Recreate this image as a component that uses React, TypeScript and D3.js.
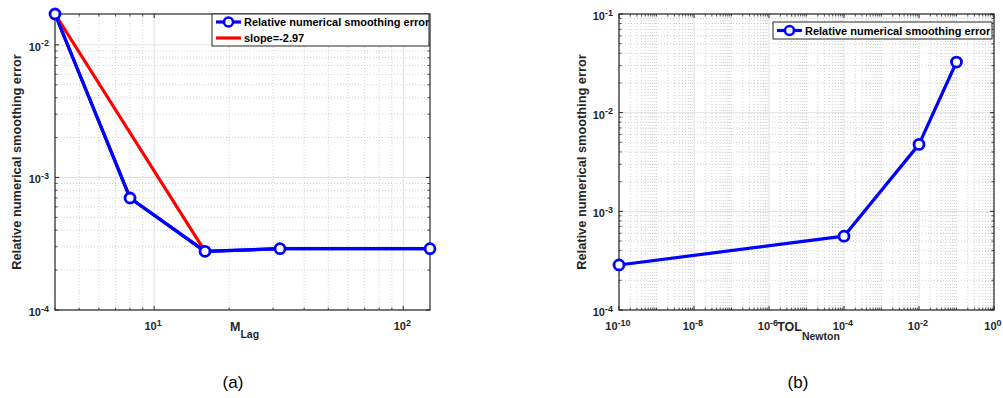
import React from "react";
import * as d3 from "d3";

// ---------- data ----------
const mLag = [4, 8, 16, 32, 128];
const errLag = [0.0171, 7.0e-4, 2.77e-4, 2.9e-4, 2.9e-4];
const slopeX = [4, 16];
const slopeY = [0.0171, 2.77e-4];
const slopeLabel = "slope=-2.97";

const tolNewton = [1e-10, 1e-4, 1e-2, 1e-1];
const errTol = [2.86e-4, 5.6e-4, 4.77e-3, 0.0326];

const leftXTicks = [10, 100];
const leftYTicks = [1e-4, 1e-3, 1e-2];
const rightXTicks = [1e-10, 1e-8, 1e-6, 1e-4, 1e-2, 1];
const rightYTicks = [1e-4, 1e-3, 1e-2, 1e-1];

const seriesName = "Relative numerical smoothing error";
const yLabel = "Relative numerical smoothing error";

const FONT = "'Liberation Sans', Arial, Helvetica, sans-serif";
const BLUE = "#0000ff";
const RED = "#ff0000";

function minorValues(domain: [number, number], majors: number[]) {
  const lo = Math.floor(Math.log10(domain[0]));
  const hi = Math.ceil(Math.log10(domain[1]));
  const out: number[] = [];
  const eps = 1e-9;
  for (let e = lo; e <= hi; e++) {
    for (let m = 1; m <= 9; m++) {
      const v = m * Math.pow(10, e);
      if (v < domain[0] * (1 - eps) || v > domain[1] * (1 + eps)) continue;
      if (majors.some((t) => Math.abs(Math.log10(t) - Math.log10(v)) < 1e-6)) continue;
      out.push(v);
    }
  }
  return out;
}

function PowLabel({ x, y, v, anchor }: { x: number; y: number; v: number; anchor: string }) {
  const e = Math.round(Math.log10(v));
  return (
    <text x={x} y={y} textAnchor={anchor} fontFamily={FONT} fontWeight="bold" fontSize={11} fill="#262626">
      10
      <tspan dy={-4.5} fontSize={9}>{String(e)}</tspan>
    </text>
  );
}

type Series = { xs: number[]; ys: number[]; color: string; marker: boolean };

function Panel(props: {
  left: number; top: number; right: number; bottom: number;
  xDomain: [number, number]; yDomain: [number, number];
  xTicks: number[]; yTicks: number[];
  series: Series[];
  legend: { label: string; color: string; marker: boolean }[];
  legendBox: { x: number; y: number; w: number; h: number };
  xLabelMain: string; xLabelSub: string; xLabelShift: number; xSubDy: number;
  yLabelX: number;
  caption: string; captionX: number;
}) {
  const { left, top, right, bottom } = props;
  const x = d3.scaleLog().domain(props.xDomain).range([left, right]);
  const y = d3.scaleLog().domain(props.yDomain).range([bottom, top]);
  const xMinor = minorValues(props.xDomain, props.xTicks);
  const yMinor = minorValues(props.yDomain, props.yTicks);
  const line = d3.line<[number, number]>().x((d) => x(d[0])).y((d) => y(d[1]));
  const lb = props.legendBox;
  const rowH = lb.h / props.legend.length;
  const midX = (left + right) / 2;
  const midY = (top + bottom) / 2;
  return (
    <g>
      <rect x={left} y={top} width={right - left} height={bottom - top} fill="#fff" />
      {/* minor grid */}
      {xMinor.map((v, i) => (
        <line key={"xm" + i} x1={x(v)} x2={x(v)} y1={top} y2={bottom} stroke="#bdbdbd" strokeWidth={0.7} strokeDasharray="1,2" />
      ))}
      {yMinor.map((v, i) => (
        <line key={"ym" + i} x1={left} x2={right} y1={y(v)} y2={y(v)} stroke="#bdbdbd" strokeWidth={0.7} strokeDasharray="1,2" />
      ))}
      {/* major grid */}
      {props.xTicks.map((v, i) => (
        <line key={"xg" + i} x1={x(v)} x2={x(v)} y1={top} y2={bottom} stroke="#e0e0e0" strokeWidth={1} />
      ))}
      {props.yTicks.map((v, i) => (
        <line key={"yg" + i} x1={left} x2={right} y1={y(v)} y2={y(v)} stroke="#e0e0e0" strokeWidth={1} />
      ))}
      {/* ticks */}
      {props.xTicks.map((v, i) => (
        <g key={"xt" + i}>
          <line x1={x(v)} x2={x(v)} y1={bottom} y2={bottom - 4} stroke="#262626" />
          <line x1={x(v)} x2={x(v)} y1={top} y2={top + 4} stroke="#262626" />
        </g>
      ))}
      {xMinor.map((v, i) => (
        <g key={"xmt" + i}>
          <line x1={x(v)} x2={x(v)} y1={bottom} y2={bottom - 2.5} stroke="#262626" strokeWidth={0.8} />
          <line x1={x(v)} x2={x(v)} y1={top} y2={top + 2.5} stroke="#262626" strokeWidth={0.8} />
        </g>
      ))}
      {props.yTicks.map((v, i) => (
        <g key={"yt" + i}>
          <line x1={left} x2={left + 4} y1={y(v)} y2={y(v)} stroke="#262626" />
          <line x1={right} x2={right - 4} y1={y(v)} y2={y(v)} stroke="#262626" />
        </g>
      ))}
      {yMinor.map((v, i) => (
        <g key={"ymt" + i}>
          <line x1={left} x2={left + 2.5} y1={y(v)} y2={y(v)} stroke="#262626" strokeWidth={0.8} />
          <line x1={right} x2={right - 2.5} y1={y(v)} y2={y(v)} stroke="#262626" strokeWidth={0.8} />
        </g>
      ))}
      {/* box */}
      <rect x={left} y={top} width={right - left} height={bottom - top} fill="none" stroke="#262626" strokeWidth={1.2} />
      {/* tick labels */}
      {props.xTicks.map((v, i) => (
        <PowLabel key={"xl" + i} x={x(v) - 1} y={bottom + 20} v={v} anchor="middle" />
      ))}
      {props.yTicks.map((v, i) => (
        <PowLabel key={"yl" + i} x={left - 6} y={y(v) + 6} v={v} anchor="end" />
      ))}
      {/* series */}
      {props.series.map((s, i) => {
        const pts = s.xs.map((xv, j) => [xv, s.ys[j]] as [number, number]);
        return (
          <g key={"s" + i}>
            <path d={line(pts) || ""} fill="none" stroke={s.color} strokeWidth={3.2} strokeLinejoin="round" />
            {s.marker &&
              pts.map((p, j) => (
                <circle key={j} cx={x(p[0])} cy={y(p[1])} r={5} fill="#fff" stroke={s.color} strokeWidth={2.8} />
              ))}
          </g>
        );
      })}
      {/* legend */}
      <rect x={lb.x} y={lb.y} width={lb.w} height={lb.h} fill="#fff" stroke="#262626" strokeWidth={1} />
      {props.legend.map((e, i) => {
        const cy = lb.y + rowH * (i + 0.5);
        return (
          <g key={"lg" + i}>
            <line x1={lb.x + 4} x2={lb.x + 29} y1={cy} y2={cy} stroke={e.color} strokeWidth={3.2} />
            {e.marker && <circle cx={lb.x + 16.5} cy={cy} r={4.5} fill="#fff" stroke={e.color} strokeWidth={2.6} />}
            <text x={lb.x + 32} y={cy + 4} fontFamily={FONT} fontWeight="bold" fontSize={11} fill="#000">
              {e.label}
            </text>
          </g>
        );
      })}
      {/* axis labels */}
      <text x={midX + props.xLabelShift} y={bottom + 21} textAnchor="middle" fontFamily={FONT} fontWeight="bold" fontSize={12.5} fill="#262626">
        {props.xLabelMain}
        <tspan dy={props.xSubDy} fontSize={10.5}>{props.xLabelSub}</tspan>
      </text>
      <text
        transform={`translate(${props.yLabelX},${midY}) rotate(-90)`}
        textAnchor="middle"
        fontFamily={FONT}
        fontWeight="bold"
        fontSize={12.8}
        fill="#262626"
      >
        {yLabel}
      </text>
      <text x={props.captionX} y={388} textAnchor="middle" fontFamily={FONT} fontSize={17} fill="#000">
        {props.caption}
      </text>
    </g>
  );
}

export default function App() {
  return (
    <svg width={1003} height={398} style={{ position: "absolute", left: 0, top: 0, background: "#fff" }}>
      <rect width={1003} height={398} fill="#fff" />
      <Panel
        left={55} top={14} right={430} bottom={310}
        xDomain={[4, 128]} yDomain={[1e-4, 0.0171]}
        xTicks={leftXTicks} yTicks={leftYTicks}
        series={[
          { xs: mLag, ys: errLag, color: BLUE, marker: false },
          { xs: slopeX, ys: slopeY, color: RED, marker: false },
          { xs: mLag, ys: errLag, color: BLUE, marker: true },
        ]}
        legend={[
          { label: seriesName, color: BLUE, marker: true },
          { label: slopeLabel, color: RED, marker: false },
        ]}
        legendBox={{ x: 212, y: 14, w: 217, h: 32 }}
        xLabelMain="M" xLabelSub="Lag" xLabelShift={2} xSubDy={6.5}
        yLabelX={21}
        caption="(a)" captionX={233}
      />
      <Panel
        left={619} top={14} right={994} bottom={310}
        xDomain={[1e-10, 1]} yDomain={[1e-4, 1e-1]}
        xTicks={rightXTicks} yTicks={rightYTicks}
        series={[{ xs: tolNewton, ys: errTol, color: BLUE, marker: true }]}
        legend={[{ label: seriesName, color: BLUE, marker: true }]}
        legendBox={{ x: 773, y: 22, w: 219, h: 17 }}
        xLabelMain="TOL" xLabelSub="Newton" xLabelShift={2} xSubDy={9}
        yLabelX={586}
        caption="(b)" captionX={798}
      />
    </svg>
  );
}
